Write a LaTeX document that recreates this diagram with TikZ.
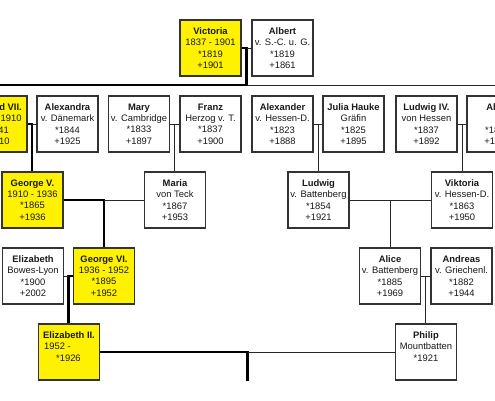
\documentclass[tikz,border=0pt]{standalone}
\usepackage{fontspec}
\setmainfont{Liberation Sans}
\usetikzlibrary{calc}
\begin{document}
\begin{tikzpicture}[x=1pt,y=-1pt,
  person/.style={draw=black!80, line width=1.1pt, fill=white, minimum width=61pt,
    minimum height=56pt, inner sep=0pt, align=center,
    font=\fontsize{9.4}{11.4}\selectfont, text=black!90},
  royal/.style={person, fill=yellow},
  lnk/.style={draw=black!85, line width=1pt},
  lin/.style={draw=black, line width=2.4pt}
]
\useasboundingbox (0,0) rectangle (495,400);
\clip (0,0) rectangle (495,400);
% generation 1
\node[royal]  (victoria) at (210.5,48) {\textbf{Victoria}\\1837 - 1901\\*1819\\+1901};
\node[person] (albert)   at (282.5,48) {\textbf{Albert}\\v. S.-C. u. G.\\*1819\\+1861};
% generation 2
\node[royal]  (edward)    at (-3.5,124)  {\textbf{Edward VII.}\\1901 - 1910\\*1841\\+1910};
\node[person] (alexandra) at (67.5,124)  {\textbf{Alexandra}\\v. Dänemark\\*1844\\+1925};
\node[person] (mary)      at (139,124)   {\textbf{Mary}\\v. Cambridge\\*1833\\+1897};
\node[person] (franz)     at (210.5,124) {\textbf{Franz}\\Herzog v. T.\\*1837\\+1900};
\node[person] (alexander) at (282.5,124) {\textbf{Alexander}\\v. Hessen-D.\\*1823\\+1888};
\node[person] (julia)     at (353.5,124) {\textbf{Julia Hauke}\\Gräfin\\*1825\\+1895};
\node[person] (ludwigIV)  at (426.5,124) {\textbf{Ludwig IV.}\\von Hessen\\*1837\\+1892};
\node[person] (alice)     at (497.5,124) {\textbf{Alice}\\~\\*1843\\+1878};
% generation 3
\node[royal]  (georgeV)   at (32.5,200)  {\textbf{George V.}\\1910 - 1936\\*1865\\+1936};
\node[person] (maria)     at (175,200)   {\textbf{Maria}\\von Teck\\*1867\\+1953};
\node[person] (ludwigB)   at (318.5,200) {\textbf{Ludwig}\\v. Battenberg\\*1854\\+1921};
\node[person] (viktoria)  at (462,200)   {\textbf{Viktoria}\\v. Hessen-D.\\*1863\\+1950};
% generation 4
\node[person] (elizBL)    at (33,276)    {\textbf{Elizabeth}\\Bowes-Lyon\\*1900\\+2002};
\node[royal]  (georgeVI)  at (104,276)   {\textbf{George VI.}\\1936 - 1952\\*1895\\+1952};
\node[person] (aliceB)    at (390,276)   {\textbf{Alice}\\v. Battenberg\\*1885\\+1969};
\node[person] (andreas)   at (461.5,276) {\textbf{Andreas}\\v. Griechenl.\\*1882\\+1944};
% generation 5
\node[royal, align=left] (elizII) at (69,352) {\textbf{Elizabeth II.}\\\hspace*{1pt}1952 -\\\hspace*{13pt}*1926\\~};
\node[person] (philip)    at (426,352)   {\textbf{Philip}\\Mountbatten\\*1921\\~};
% connectors
\coordinate (g1L) at (0,85);
\coordinate (g1R) at (495,85);
\coordinate (mVA) at ($(victoria.east)!0.5!(albert.west)$);
\draw[lin] (victoria.east) -- (mVA) -- (mVA |- g1L) -- (g1L);
\draw[lnk] (mVA) -- (albert.west);
\draw[lnk] (mVA |- g1L) -- (g1R);
%
\coordinate (mEA) at ($(edward.east)!0.5!(alexandra.west)$);
\draw[lin] (edward.east) -- (mEA) -- (mEA |- georgeV.north);
\draw[lnk] (mEA) -- (alexandra.west);
\coordinate (mMF) at ($(mary.east)!0.5!(franz.west)$);
\draw[lnk] (mary.east) -- (franz.west);
\draw[lnk] (mMF) -- (mMF |- maria.north);
\coordinate (mAJ) at ($(alexander.east)!0.5!(julia.west)$);
\draw[lnk] (alexander.east) -- (julia.west);
\draw[lnk] (mAJ) -- (mAJ |- ludwigB.north);
\coordinate (mLA) at ($(ludwigIV.east)!0.5!(alice.west)$);
\draw[lnk] (ludwigIV.east) -- (alice.west);
\draw[lnk] (mLA) -- (mLA |- viktoria.north);
%
\coordinate (mGM) at ($(georgeV.east)!0.5!(maria.west)$);
\draw[lin] (georgeV.east) -- (mGM) -- (mGM |- georgeVI.north);
\draw[lnk] (mGM) -- (maria.west);
\coordinate (mLV) at ($(ludwigB.east)!0.5!(viktoria.west)$);
\draw[lnk] (ludwigB.east) -- (viktoria.west);
\draw[lnk] (mLV) -- (mLV |- aliceB.north);
%
\coordinate (mEG) at ($(elizBL.east)!0.5!(georgeVI.west)$);
\draw[lin] (georgeVI.west) -- (mEG) -- (mEG |- elizII.north);
\draw[lnk] (elizBL.east) -- (mEG);
\coordinate (mAA) at ($(aliceB.east)!0.5!(andreas.west)$);
\draw[lnk] (aliceB.east) -- (andreas.west);
\draw[lnk] (mAA) -- (mAA |- philip.north);
%
\coordinate (mEP) at ($(elizII.east)!0.5!(philip.west)$);
\coordinate (desc) at (mEP |- elizII.south);
\draw[lin] (elizII.east) -- (mEP) -- (desc);
\draw[lnk] (mEP) -- (philip.west);
\end{tikzpicture}
\end{document}
